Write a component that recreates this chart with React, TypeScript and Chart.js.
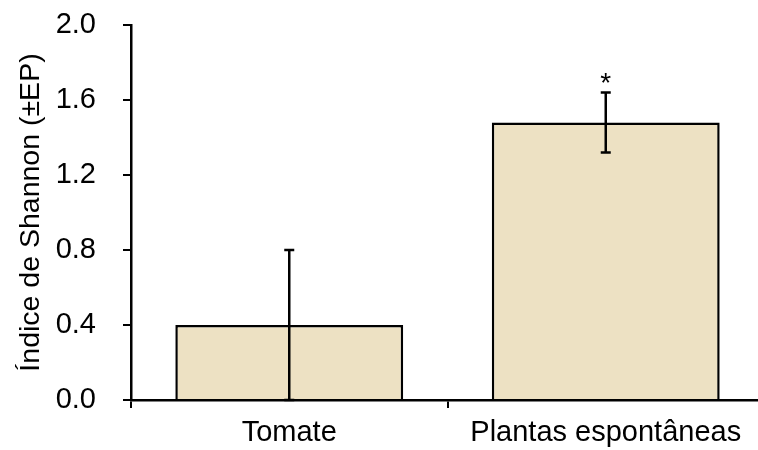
import React, { useEffect, useRef } from "react";
import { Chart, registerables } from "chart.js";

Chart.register(...registerables);

// Shannon diversity index by plant group, with standard errors
const categories = ["Tomate", "Plantas espontâneas"];
const shannonValues = [0.4, 1.48];
const standardErrors = [0.4, 0.16];
const significance = ["", "*"];
const yTicks = [0, 0.4, 0.8, 1.2, 1.6, 2.0];

const FONT = "'Liberation Sans', Arial, sans-serif";

const errorBarPlugin = {
  id: "errorBars",
  afterDatasetsDraw(chart: any) {
    const { ctx } = chart;
    const meta = chart.getDatasetMeta(0);
    const y = chart.scales.y;
    ctx.save();
    ctx.strokeStyle = "#000";
    ctx.lineWidth = 2.5;
    meta.data.forEach((bar: any, i: number) => {
      const v = shannonValues[i];
      const e = standardErrors[i];
      const x = bar.x;
      const yTop = y.getPixelForValue(v + e);
      const yBot = y.getPixelForValue(v - e);
      const cap = 5;
      ctx.beginPath();
      ctx.moveTo(x, yTop);
      ctx.lineTo(x, yBot);
      ctx.moveTo(x - cap, yTop);
      ctx.lineTo(x + cap, yTop);
      ctx.moveTo(x - cap, yBot);
      ctx.lineTo(x + cap, yBot);
      ctx.stroke();
      if (significance[i]) {
        ctx.fillStyle = "#000";
        ctx.font = `28px ${FONT}`;
        ctx.textAlign = "center";
        ctx.textBaseline = "alphabetic";
        ctx.fillText(significance[i], x, yTop - 1);
      }
    });
    ctx.restore();
  },
};

export default function App() {
  const canvasRef = useRef<HTMLCanvasElement | null>(null);

  useEffect(() => {
    if (!canvasRef.current) return;
    const chart = new Chart(canvasRef.current, {
      type: "bar",
      data: {
        labels: categories,
        datasets: [
          {
            data: shannonValues,
            backgroundColor: "#EDE1C3",
            borderColor: "#000",
            borderWidth: 2.5,
            borderSkipped: "bottom",
            barPercentage: 0.72,
            categoryPercentage: 1,
          },
        ],
      },
      options: {
        animation: false,
        responsive: false,
        maintainAspectRatio: false,
        layout: { padding: { top: 25, left: 0, right: 0, bottom: 0 } },
        plugins: {
          legend: { display: false },
          tooltip: { enabled: false },
        },
        scales: {
          x: {
            offset: true,
            grid: {
              offset: true,
              drawOnChartArea: false,
              drawTicks: true,
              tickLength: 8,
              color: "#000",
              lineWidth: 2,
            },
            border: { display: true, color: "#000", width: 2.5, z: 1 },
            ticks: {
              color: "#000",
              font: { family: FONT, size: 29 },
              padding: 8,
              maxRotation: 0,
            },
            afterFit(scale: any) {
              scale.height = 50;
              scale.paddingLeft = 0;
              scale.paddingRight = 0;
            },
          },
          y: {
            min: 0,
            max: 2,
            afterBuildTicks(scale: any) {
              scale.ticks = yTicks.map((v) => ({ value: v }));
            },
            grid: {
              drawOnChartArea: false,
              drawTicks: true,
              tickLength: 8,
              color: "#000",
              lineWidth: 2,
            },
            border: { display: true, color: "#000", width: 2.5 },
            ticks: {
              color: "#000",
              font: { family: FONT, size: 29 },
              padding: 27,
              callback: (v: any) => Number(v).toFixed(1),
            },
            title: {
              display: true,
              text: "Índice de Shannon (±EP)",
              color: "#000",
              font: { family: FONT, size: 28.5 },
              padding: { top: 14, bottom: 0 },
            },
            afterFit(scale: any) {
              scale.width = 131;
              scale.paddingTop = 0;
              scale.paddingBottom = 0;
            },
          },
        },
      },
      plugins: [errorBarPlugin],
    });
    return () => chart.destroy();
  }, []);

  return (
    <div
      style={{
        position: "fixed",
        left: 0,
        top: 0,
        width: 758,
        height: 450,
        overflow: "hidden",
        background: "#fff",
      }}
    >
      <canvas ref={canvasRef} width={764} height={450} style={{ display: "block" }} />
    </div>
  );
}
